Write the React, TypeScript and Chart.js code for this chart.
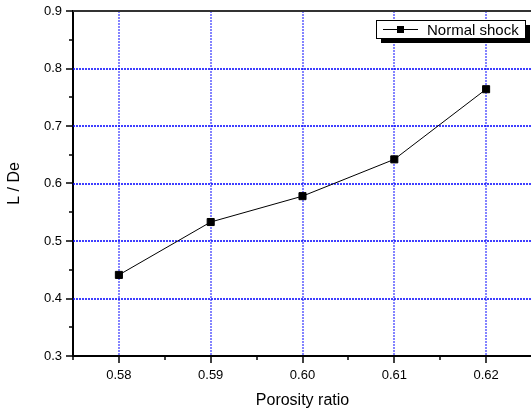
import React, { useEffect, useRef } from "react";
import { Chart, registerables } from "chart.js";

Chart.register(...registerables);

const porosity = [0.58, 0.59, 0.6, 0.61, 0.62];
const ratioLDe = [0.441, 0.533, 0.578, 0.642, 0.764];
const xMajorTicks = [0.58, 0.59, 0.6, 0.61, 0.62];
const yMajorTicks = [0.4, 0.5, 0.6, 0.7, 0.8];
const seriesLabel = "Normal shock";
const xTitle = "Porosity ratio";
const yTitle = "L / De";

const FONT = "'Liberation Sans', Arial, Helvetica, sans-serif";

const isMajorX = (v: number) => Math.round(v * 1000) % 10 === 0;
const isMajorY = (v: number) => Math.round(v * 100) % 10 === 0;

const gridPlugin = {
  id: "dottedGrid",
  beforeDatasetsDraw(chart: any) {
    const { ctx, chartArea } = chart;
    const xs = chart.scales.x;
    const ys = chart.scales.y;
    ctx.save();
    ctx.setLineDash([2, 1]);
    ctx.lineWidth = 1.2;
    ctx.strokeStyle = "#3333ff";
    xMajorTicks.forEach((v) => {
      const px = Math.round(xs.getPixelForValue(v));
      ctx.beginPath();
      ctx.moveTo(px, chartArea.top);
      ctx.lineTo(px, chartArea.bottom);
      ctx.stroke();
    });
    ctx.lineWidth = 1.4;
    ctx.strokeStyle = "#0000ff";
    yMajorTicks.forEach((v) => {
      const py = Math.round(ys.getPixelForValue(v));
      ctx.beginPath();
      ctx.moveTo(chartArea.left, py);
      ctx.lineTo(chartArea.right, py);
      ctx.stroke();
    });
    ctx.restore();
  },
};

const decorPlugin = {
  id: "decor",
  afterDraw(chart: any) {
    const { ctx, chartArea } = chart;
    const xs = chart.scales.x;
    const ys = chart.scales.y;
    ctx.save();
    ctx.strokeStyle = "#333";
    ctx.lineWidth = 2;
    ctx.beginPath();
    ctx.moveTo(chartArea.left, chartArea.top);
    ctx.lineTo(chartArea.right, chartArea.top);
    ctx.stroke();
    ctx.strokeStyle = "#000";
    ctx.lineWidth = 1.5;
    xs.ticks.forEach((t: any) => {
      const px = Math.round(xs.getPixelForValue(t.value));
      const len = isMajorX(t.value) ? 7 : 4;
      ctx.beginPath();
      ctx.moveTo(px, chartArea.bottom);
      ctx.lineTo(px, chartArea.bottom + len);
      ctx.stroke();
    });
    ys.ticks.forEach((t: any) => {
      const py = Math.round(ys.getPixelForValue(t.value));
      const len = isMajorY(t.value) ? 7 : 4;
      ctx.beginPath();
      ctx.moveTo(chartArea.left, py);
      ctx.lineTo(chartArea.left - len, py);
      ctx.stroke();
    });
    const bx = 376, by = 20, bw = 149, bh = 18;
    ctx.fillStyle = "#000";
    ctx.fillRect(bx + 5, by + 5, bw, bh);
    ctx.fillStyle = "#fff";
    ctx.fillRect(bx, by, bw, bh);
    ctx.strokeStyle = "#000";
    ctx.lineWidth = 1;
    ctx.strokeRect(bx + 0.5, by + 0.5, bw, bh);
    ctx.beginPath();
    ctx.moveTo(383, 29.5);
    ctx.lineTo(418, 29.5);
    ctx.stroke();
    ctx.fillStyle = "#000";
    ctx.fillRect(397, 26, 7, 7);
    ctx.font = `15px ${FONT}`;
    ctx.textBaseline = "alphabetic";
    ctx.textAlign = "left";
    ctx.fillText(chart.data.datasets[0].label, 427, 35);
    ctx.restore();
  },
};

export default function App() {
  const ref = useRef<HTMLCanvasElement>(null);
  useEffect(() => {
    if (!ref.current) return;
    const chart = new Chart(ref.current, {
      type: "line",
      data: {
        datasets: [
          {
            label: seriesLabel,
            data: porosity.map((x, i) => ({ x, y: ratioLDe[i] })),
            borderColor: "#000",
            borderWidth: 1,
            backgroundColor: "#000",
            pointStyle: "rect",
            pointRadius: 5,
            pointBorderWidth: 1,
            pointBorderColor: "#000",
            pointBackgroundColor: "#000",
            tension: 0,
          },
        ],
      },
      plugins: [gridPlugin, decorPlugin],
      options: {
        responsive: false,
        animation: false,
        layout: { padding: { top: 11, right: 8, left: 0, bottom: 0 } },
        plugins: { legend: { display: false }, tooltip: { enabled: false } },
        scales: {
          x: {
            type: "linear",
            min: 0.575,
            max: 0.625,
            afterFit: (s: any) => {
              s.height = 56;
              s.paddingLeft = 0;
              s.paddingRight = 0;
            },
            border: { display: true, color: "#000", width: 2 },
            grid: { display: false, drawTicks: false },
            ticks: {
              stepSize: 0.005,
              autoSkip: false,
              maxRotation: 0,
              padding: 12,
              color: "#000",
              font: { family: FONT, size: 13 },
              callback: (v: any) => (isMajorX(Number(v)) ? Number(v).toFixed(2) : ""),
            },
            title: {
              display: true,
              text: xTitle,
              color: "#000",
              font: { family: FONT, size: 16 },
              padding: { top: 0, bottom: 2 },
            },
          } as any,
          y: {
            type: "linear",
            min: 0.3,
            max: 0.9,
            afterFit: (s: any) => {
              s.width = 73;
              s.paddingTop = 0;
              s.paddingBottom = 0;
            },
            border: { display: true, color: "#000", width: 2 },
            grid: { display: false, drawTicks: false },
            ticks: {
              stepSize: 0.05,
              autoSkip: false,
              padding: 11,
              color: "#000",
              font: { family: FONT, size: 13 },
              callback: (v: any) => (isMajorY(Number(v)) ? Number(v).toFixed(1) : ""),
            },
            title: {
              display: true,
              text: yTitle,
              color: "#000",
              font: { family: FONT, size: 16 },
              padding: { top: 5, bottom: 0 },
            },
          } as any,
        },
      },
    });
    return () => chart.destroy();
  }, []);
  return (
    <div style={{ position: "fixed", left: 0, top: 0, width: 540, height: 412, background: "#fff" }}>
      <canvas ref={ref} width={540} height={412} style={{ display: "block" }} />
    </div>
  );
}
